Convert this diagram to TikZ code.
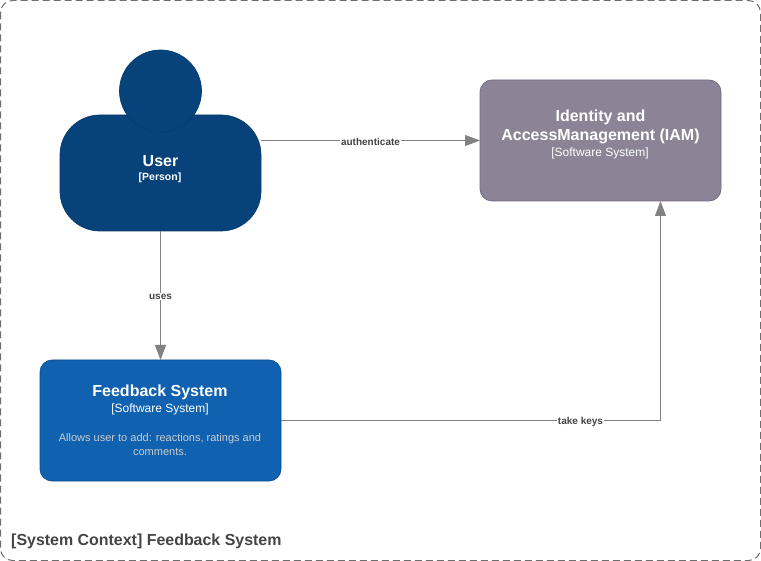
\documentclass[tikz,border=0pt]{standalone}
\usepackage{fontspec}
\setmainfont{Liberation Sans}
\usetikzlibrary{arrows.meta}
\definecolor{personfill}{HTML}{08427B}
\definecolor{personline}{HTML}{073B6F}
\definecolor{sysfill}{HTML}{1061B0}
\definecolor{sysline}{HTML}{0D5091}
\definecolor{iamfill}{HTML}{8C8496}
\definecolor{iamline}{HTML}{736782}
\definecolor{linkgray}{HTML}{828282}
\definecolor{labelgray}{HTML}{444444}
\definecolor{boundgray}{HTML}{6E6E6E}
\tikzset{
  x=1pt,y=-1pt,
  boxshape/.style={draw,line width=0.7pt,inner sep=0pt,outer sep=0pt,rectangle},
  sysbox/.style={boxshape,fill=sysfill,draw=sysline,minimum width=241pt,minimum height=121pt,rounded corners=12pt},
  iambox/.style={boxshape,fill=iamfill,draw=iamline,minimum width=241pt,minimum height=121pt,rounded corners=12pt},
  bodybox/.style={boxshape,fill=personfill,draw=personline,minimum width=201pt,minimum height=116pt,rounded corners=40pt},
  headcircle/.style={circle,draw=personline,fill=personfill,line width=0.7pt,minimum size=82pt,inner sep=0pt,outer sep=0pt},
  titletext/.style={text=white,font=\fontsize{16}{19}\selectfont\bfseries,align=center,inner sep=0pt},
  typetext/.style={text=white,font=\fontsize{12}{14}\selectfont,inner sep=0pt},
  typesmall/.style={text=white,font=\fontsize{10.5}{13}\selectfont\bfseries,inner sep=0pt},
  desctext/.style={text=black!20,font=\fontsize{11}{14}\selectfont,align=center,inner sep=0pt},
  link/.style={draw=linkgray,line width=0.8pt,-{Triangle[length=15pt,width=11pt,fill=linkgray]}},
  linklabel/.style={fill=white,text=labelgray,font=\fontsize{10}{12}\selectfont\bfseries,inner sep=0.6pt},
  boundary/.style={draw=boundgray,line width=1pt,dash pattern=on 7pt off 4pt,rounded corners=12pt},
  boundtitle/.style={text=labelgray,font=\fontsize{15.95}{19}\selectfont\bfseries,anchor=west,inner sep=0pt}
}
\begin{document}
\begin{tikzpicture}
\useasboundingbox (0,0) rectangle (761,561);
\draw[boundary] (0.5,0.5) rectangle (760.5,560.5);
\node[boundtitle] (boundlabel) at (11,541.5) {[System Context] Feedback System};

\node[bodybox] (userbody) at (160.5,173) {};
\node[headcircle] (userhead) at (160.5,91) {};
\node[titletext] (usertitle) at (160.5,161) {User};
\node[typesmall] (usertype) at (160,177.5) {[Person]};

\node[iambox] (iam) at (600.5,140.5) {};
\node[titletext] (iamtitle) at (600.5,126.5) {Identity and\\AccessManagement (IAM)};
\node[typetext] (iamtype) at (600,153) {[Software System]};

\node[sysbox] (fb) at (160.5,420.5) {};
\node[titletext] (fbtitle) at (160,392.5) {Feedback System};
\node[typetext] (fbtype) at (160,409) {[Software System]};
\node[desctext] (fbdesc) at (160,445) {Allows user to add: reactions, ratings and\\comments.};

\draw[link] (userbody.east |- iam.west) -- node[linklabel,yshift=-1pt] (authlabel) {authenticate} (iam.west);
\draw[link] (userbody.south) -- node[linklabel,yshift=-1pt] (useslabel) {uses} (userbody.south |- fb.north);
\coordinate (iamkeys) at ([xshift=60pt]iam.south);
\draw[link] (fb.east) -- (fb.east -| iamkeys) -- (iamkeys);
\node[linklabel] (keyslabel) at (580.5,422) {take keys};
\end{tikzpicture}
\end{document}
